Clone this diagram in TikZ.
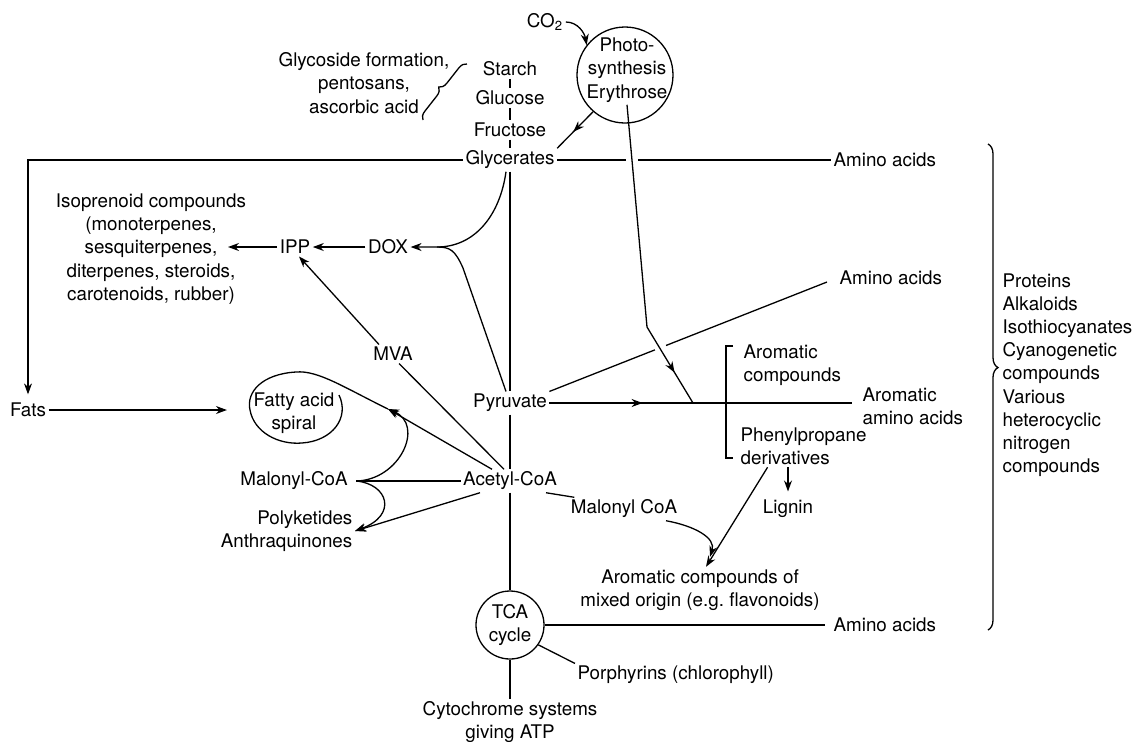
\documentclass[tikz,border=0pt]{standalone}
\usepackage{fontspec}
\setmainfont{TeX Gyre Heros}
\usetikzlibrary{arrows.meta,calc,decorations.pathreplacing,decorations.markings}

\begin{document}
\begin{tikzpicture}[x=0.5pt,y=-0.5pt,line width=0.65pt,
	>={Stealth[length=5.5pt,width=4pt]},
	every node/.style={font=\fontsize{9.4}{11.6}\selectfont,inner sep=1pt,align=center},
	ring/.style={draw,circle,inner sep=0pt},
	midarrow/.style={postaction={decorate},decoration={markings,mark=at position #1 with {\arrow{Stealth[length=5.5pt,width=4pt]}}}}]
\useasboundingbox (0,0) rectangle (1136,741);

\node (co2) at (545,22) {CO\textsubscript{2}};
\node[ring,minimum size=48pt] (photo) at (625,75) {};
\node (phototxt) at (627,70) {Photo-\\synthesis\\Erythrose};
\node (starch) at (510,69) {Starch};
\node (glucose) at (510,98) {Glucose};
\node (fructose) at (510,130) {Fructose};
\node (glycerates) at (510,160) {Glycerates};
\node (glyco) at (364,83) {Glycoside formation,\\pentosans,\\ascorbic acid};
\node[anchor=west] (amino1) at (831,160) {Amino acids};
\node (isoprenoid) at (151,249) {Isoprenoid compounds\\(monoterpenes,\\sesquiterpenes,\\diterpenes, steroids,\\carotenoids, rubber)};
\node (ipp) at (295,247) {IPP};
\node (dox) at (388,247) {DOX};
\node (mva) at (393,354) {MVA};
\node[anchor=west] (amino2) at (837,278) {Amino acids};
\node (pyruvate) at (510,403) {Pyruvate};
\node (fats) at (28,410) {Fats};
\node (fatty) at (294,413) {Fatty acid\\spiral};
\node[anchor=west,align=left] (arom) at (741,365) {Aromatic\\compounds};
\node[anchor=west,align=left] (aromaa) at (860,406) {Aromatic\\amino acids};
\node[anchor=west,align=left] (phenyl) at (738,446) {Phenylpropane\\derivatives};
\node (malonylL) at (294,481) {Malonyl-CoA};
\node (acetyl) at (510,481) {Acetyl-CoA};
\node (malonylR) at (624,509) {Malonyl CoA};
\node (lignin) at (788,509) {Lignin};
\node[anchor=east,align=right] (polyk) at (355,531) {Polyketides\\Anthraquinones};
\node (mixed) at (700,590) {Aromatic compounds of\\mixed origin (e.g.\ flavonoids)};
\node[ring,minimum size=34pt] (tca) at (510,625) {TCA\\cycle};
\node[anchor=west] (amino3) at (831,625) {Amino acids};
\node[anchor=west] (porph) at (575,675) {Porphyrins (chlorophyll)};
\node (cyto) at (510,722) {Cytochrome systems\\giving ATP};
\node[anchor=west,align=left] (products) at (1000,375) {Proteins\\Alkaloids\\Isothiocyanates\\Cyanogenetic\\compounds\\Various\\heterocyclic\\nitrogen\\compounds};

\coordinate (gapA) at (626,160);
\coordinate (gapB) at (638,160);
\coordinate (doxj) at (437,247);
\coordinate (isoL) at (228,247);
\coordinate (fa) at (388,409);
\coordinate (mj) at ([xshift=3pt]malonylL.east);
\coordinate (bend) at (647,327);
\coordinate (pj) at (693,403);
\coordinate (a2) at ([xshift=-5pt,yshift=-2pt]amino2.west);

\draw (starch) -- (glucose) -- (fructose) -- (glycerates) -- (pyruvate) -- (acetyl) -- (tca) -- (cyto);
\draw[->] (co2.east) to[out=0,in=100] (photo.142);
\draw[midarrow=0.55] (photo.229) -- (glycerates.north east);
\draw[->,shorten >=3pt] (glycerates.west) -| (fats.north);
\draw (glycerates.east) -- (gapA) (gapB) -- (amino1.west);
\draw[decorate,decoration={brace,amplitude=4pt}] (423,120) -- (467,64);

\draw[->] ([xshift=-2pt]glycerates.south) .. controls (500,215) and (475,247) .. (doxj) -- (dox.east);
\draw ([xshift=-2pt]pyruvate.north) -- (463,268) .. controls (455,250) and (450,247) .. (doxj);
\draw[->] (dox) -- (ipp);
\draw[->] (ipp) -- (isoL);
\draw[->] ([xshift=-7pt]mva.north) -- ([xshift=2pt]ipp.south);
\draw ([xshift=-3pt]acetyl.north) -- ([xshift=3pt]mva.south);

\draw[->,shorten >=12pt] (fats.east) -- (fats.east -| fatty.west);
\draw[->] ([xshift=-9pt]acetyl.north) -- (fa);
\draw (fa) .. controls (345,388) and (318,370) .. (296,372) .. controls (262,374) and (246,392) .. (250,410) .. controls (254,432) and (278,445) .. (302,443) .. controls (332,441) and (350,418) .. (339,395);
\draw (mj) -- (acetyl.west);
\draw[->] (mj) .. controls (400,480) and (425,425) .. (fa);
\draw[->] (mj) .. controls (388,484) and (398,515) .. (polyk.east);
\draw[->] ([xshift=-15pt]acetyl.south) -- (polyk.east);
\draw ([xshift=18pt]acetyl.south) -- ([xshift=3pt]malonylR.north west);

\draw[midarrow=0.3,shorten >=4pt] (pyruvate.east) -- (pyruvate.east -| aromaa.west);
\draw (phototxt.south) -- (bend);
\draw[midarrow=0.6] (bend) -- (pj);
\draw (pyruvate.north east) -- ($(pyruvate.north east)!0.38!(a2)$) ($(pyruvate.north east)!0.42!(a2)$) -- (a2);
\draw (733,346) -- (726,346) -- (726,458) -- (733,458);
\draw[->] (phenyl.south -| lignin) -- ([yshift=3pt]lignin.north);
\draw[->] ([xshift=-18pt]phenyl.south) -- ([xshift=3pt]mixed.north);
\draw[->] ([xshift=21pt]malonylR.south) .. controls (695,526) and (716,538) .. ([xshift=5pt,yshift=5pt]mixed.north);

\draw[shorten >=3pt] (tca) -- (amino3);
\draw (tca.-35) -- (porph.north west);
\draw[decorate,decoration={brace,amplitude=5pt,aspect=0.46}] (988,144) -- (988,630);

\end{tikzpicture}
\end{document}
